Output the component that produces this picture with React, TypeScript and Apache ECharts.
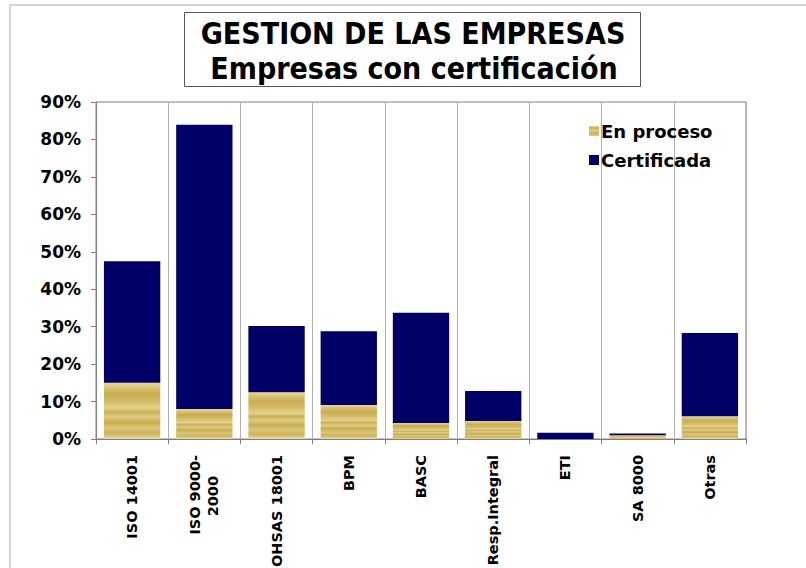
import React, { useEffect, useRef } from "react";
import * as echarts from "echarts";

const categories = ["ISO 14001", "ISO 9000-\n2000", "OHSAS 18001", "BPM", "BASC", "Resp.Integral", "ETI", "SA 8000", "Otras"];
const enProceso = [15, 8, 12.5, 9.1, 4.3, 4.8, 0, 1, 6.1];
const certificada = [32.5, 75.9, 17.7, 19.7, 29.4, 8, 1.7, 0.5, 22.2];
const yTicks = { min: 0, max: 90, interval: 10 };

const FONT = "DejaVu Sans";

const gold = new echarts.graphic.LinearGradient(0, 0, 0, 1, [
  { offset: 0, color: "#E9DA9C" },
  { offset: 0.08, color: "#D9C377" },
  { offset: 0.2, color: "#C8AC50" },
  { offset: 0.35, color: "#D6BF6E" },
  { offset: 0.45, color: "#E4D28E" },
  { offset: 0.52, color: "#C9AE55" },
  { offset: 0.6, color: "#E0CC84" },
  { offset: 0.7, color: "#C8AC50" },
  { offset: 0.8, color: "#DBC579" },
  { offset: 0.9, color: "#CDB35E" },
  { offset: 1, color: "#EBDEA6" },
]);

const labelFont = { fontFamily: FONT, fontWeight: "bold" as const, fontSize: 14.5, color: "#000" };
const titleFont = `bold 30px "DejaVu Sans Condensed"`;

export default function App() {
  const ref = useRef<HTMLDivElement>(null);
  useEffect(() => {
    if (!ref.current) return;
    const chart = echarts.init(ref.current, undefined, { renderer: "svg" });
    chart.setOption({
      animation: false,
      backgroundColor: "#ffffff",
      graphic: [
        {
          type: "rect",
          shape: { x: 10, y: 5, width: 900, height: 700 },
          style: { fill: "none", stroke: "#c8c8c8", lineWidth: 1.5 },
          silent: true,
        },
        {
          type: "rect",
          shape: { x: 184.5, y: 12.5, width: 456, height: 74 },
          style: { fill: "#ffffff", stroke: "#555555", lineWidth: 1 },
          silent: true,
        },
        {
          type: "text",
          x: 413,
          y: 33,
          style: { text: "GESTION DE LAS EMPRESAS", font: titleFont, fill: "#000", align: "center", verticalAlign: "middle" },
        },
        {
          type: "text",
          x: 414,
          y: 68,
          style: { text: "Empresas con certificación", font: titleFont, fill: "#000", align: "center", verticalAlign: "middle" },
        },
      ],
      legend: {
        orient: "vertical",
        left: 584,
        top: 117,
        itemWidth: 10,
        itemHeight: 10,
        itemGap: 11,
        icon: "rect",
        data: ["En proceso", "Certificada"],
        textStyle: { fontFamily: FONT, fontWeight: "bold", fontSize: 18, color: "#000", padding: [0, 0, 0, -3] },
      },
      grid: {
        left: 96,
        right: 60,
        top: 102,
        bottom: 129,
        show: true,
        borderColor: "#808080",
        borderWidth: 1,
        containLabel: false,
        outerBoundsMode: "none",
      },
      xAxis: {
        type: "category",
        data: categories,
        axisLine: { lineStyle: { color: "#808080" } },
        axisTick: { show: true, length: 5, lineStyle: { color: "#808080" } },
        splitLine: { show: true, lineStyle: { color: "#b0b0b0", width: 1 } },
        axisLabel: {
          rotate: 90,
          interval: 0,
          margin: 16,
          ...labelFont,
          lineHeight: 18,
          align: "right",
          formatter: (v: string) => {
            const parts = v.split("\n");
            if (parts.length === 1) return v;
            return `{a|${parts[0]}}\n{b|${parts[1]}}`;
          },
          rich: {
            a: { ...labelFont, lineHeight: 18 },
            b: { ...labelFont, lineHeight: 18, padding: [0, 21, 0, 0] },
          },
        },
      },
      yAxis: {
        type: "value",
        min: yTicks.min,
        max: yTicks.max,
        interval: yTicks.interval,
        axisLine: { show: true, lineStyle: { color: "#808080" } },
        axisTick: { show: true, length: 5, lineStyle: { color: "#808080" } },
        splitLine: { show: false },
        axisLabel: {
          formatter: "{value}%",
          fontFamily: FONT,
          fontWeight: "bold",
          fontSize: 17,
          color: "#000",
          margin: 15,
        },
      },
      series: [
        {
          name: "En proceso",
          type: "bar",
          stack: "total",
          barWidth: "78%",
          data: enProceso,
          itemStyle: { color: gold },
        },
        {
          name: "Certificada",
          type: "bar",
          stack: "total",
          data: certificada,
          itemStyle: { color: "#000066" },
        },
      ],
    });
    return () => chart.dispose();
  }, []);
  return <div ref={ref} style={{ position: "fixed", left: 0, top: 0, width: 806, height: 568 }} />;
}
